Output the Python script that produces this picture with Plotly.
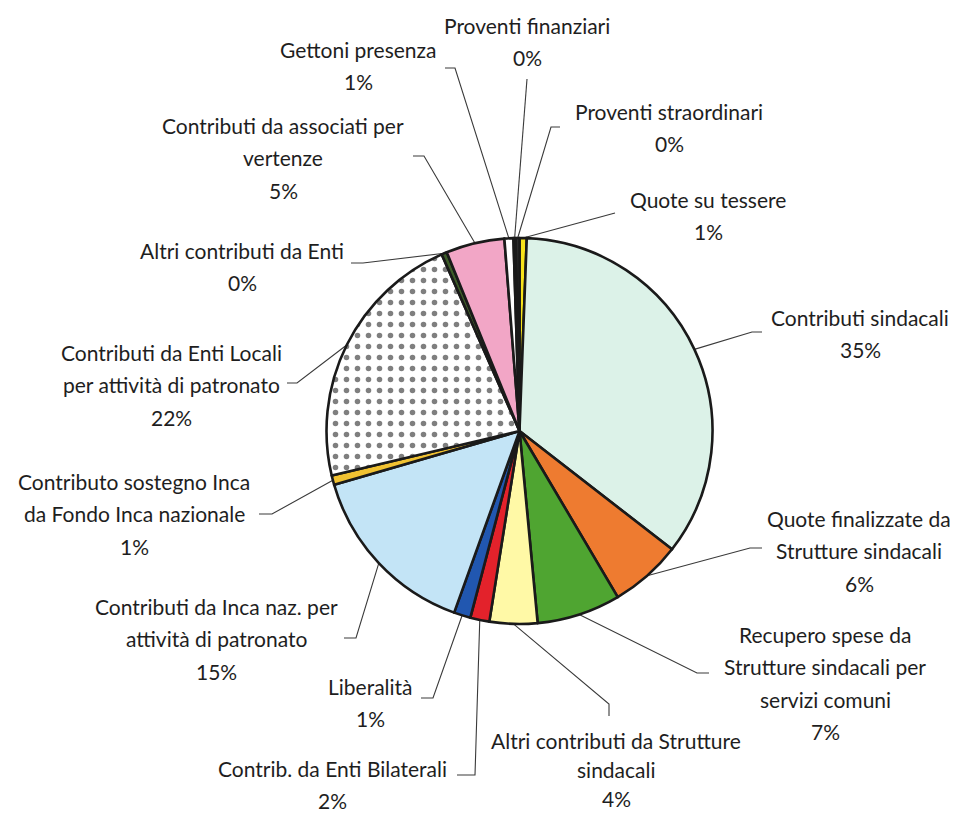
import math
import plotly.graph_objects as go

# ---------------- data ----------------
labels = [
    "Quote su tessere",
    "Contributi sindacali",
    "Quote finalizzate da Strutture sindacali",
    "Recupero spese da Strutture sindacali per servizi comuni",
    "Altri contributi da Strutture sindacali",
    "Contrib. da Enti Bilaterali",
    "Liberalità",
    "Contributi da Inca naz. per attività di patronato",
    "Contributo sostegno Inca da Fondo Inca nazionale",
    "Contributi da Enti Locali per attività di patronato",
    "Altri contributi da Enti",
    "Contributi da associati per vertenze",
    "Gettoni presenza",
    "Proventi finanziari",
    "Proventi straordinari",
]
values = [0.6, 34.9, 6.0, 7.0, 4.0, 1.6, 1.4, 15.0, 0.8, 22.1, 0.45, 4.9, 0.75, 0.2, 0.3]

# label text as displayed (line breaks as in the chart)
label_lines = [
    ["Quote su tessere"],
    ["Contributi sindacali"],
    ["Quote finalizzate da", "Strutture sindacali"],
    ["Recupero spese da", "Strutture sindacali per", "servizi comuni"],
    ["Altri contributi da Strutture", "sindacali"],
    ["Contrib. da Enti Bilaterali"],
    ["Liberalità"],
    ["Contributi da Inca naz. per", "attività di patronato"],
    ["Contributo sostegno Inca", "da Fondo Inca nazionale"],
    ["Contributi da Enti Locali", "per attività di patronato"],
    ["Altri contributi da Enti"],
    ["Contributi da associati per", "vertenze"],
    ["Gettoni presenza"],
    ["Proventi finanziari"],
    ["Proventi straordinari"],
]

# ---------------- styles ----------------
colors = [
    "#F7E21B", "#DCF2E8", "#EE7B30", "#4FA531", "#FFF9A6", "#E3222B", "#2157B0",
    "#C3E4F6", "#F1C232", "#FFFFFF", "#3E5E29", "#F2A6C6", "#FFFFFF", "#333333", "#333333",
]
patterns = ["", "", "", "", "", "", "", "", "", ".", "", "", "", "", ""]

# label layout: (center x px, first line center y px)
label_pos = [
    (708, 199), (860, 317), (859, 518), (825, 634), (616, 740), (332, 768),
    (370, 686), (216, 606), (134, 481), (171, 352), (242, 250), (283, 125),
    (358, 49), (527, 25), (669, 111),
]
line_gap = 32.5
gap_override = {4: 29.0}
# leader lines: text-side points (px), pie-side end computed from data
leader_text_pts = [
    [(615, 213)],
    [(762, 332), (752, 332)],
    [(762, 548), (750, 548)],
    [(709, 673), (697, 673)],
    [(609, 716), (609, 704)],
    [(457, 775), (475, 775)],
    [(421, 698), (433, 698)],
    [(344, 638), (356, 638)],
    [(259, 514), (272, 514)],
    [(287, 383), (297, 383)],
    [(351, 263), (363, 263)],
    [(413, 156), (424, 156)],
    [(445, 68), (455, 68)],
    [(527, 79)],
    [(560, 127), (551, 127)],
]

W, H = 960, 814
pie_dom_x = [0.3401, 0.7422]
pie_dom_y = [0.2334, 0.7076]
FONT = "Lato"
FS = 21
TXT = "#1e1e1e"

fig = go.Figure()

fig.add_trace(go.Pie(
    labels=labels,
    values=values,
    sort=False,
    direction="clockwise",
    rotation=0,
    textinfo="none",
    hoverinfo="skip",
    showlegend=False,
    domain=dict(x=pie_dom_x, y=pie_dom_y),
    marker=dict(
        colors=colors,
        line=dict(color="#1a1a1a", width=2.6),
        pattern=dict(shape=patterns, fgcolor="#000000", bgcolor="#FFFFFF",
                     size=11, solidity=0.2, fillmode="overlay"),
    ),
))

# geometry of pie in pixel coordinates
cx = (pie_dom_x[0] + pie_dom_x[1]) / 2 * W
cy = H * (1 - (pie_dom_y[0] + pie_dom_y[1]) / 2)
r = min((pie_dom_x[1] - pie_dom_x[0]) * W, (pie_dom_y[1] - pie_dom_y[0]) * H) / 2

total = sum(values)
cum = 0.0
for i, v in enumerate(values):
    mid = (cum + v / 2) / total * 2 * math.pi
    cum += v
    ex = cx + r * math.sin(mid)
    ey = cy - r * math.cos(mid)
    pts = leader_text_pts[i] + [(ex, ey)]
    fig.add_trace(go.Scatter(
        x=[p[0] for p in pts], y=[p[1] for p in pts],
        mode="lines", line=dict(color="#3a3a3a", width=1.1),
        hoverinfo="skip", showlegend=False, xaxis="x", yaxis="y",
    ))
    pct = f"{round(v / total * 100)}%"
    lx, ly = label_pos[i]
    g = gap_override.get(i, line_gap)
    for j, line in enumerate(label_lines[i] + [pct]):
        fig.add_annotation(
            x=lx, y=ly + j * g, xref="x", yref="y",
            text=line, showarrow=False, xanchor="center", yanchor="middle",
            font=dict(family=FONT, size=FS, color=TXT),
        )

fig.update_layout(
    width=W, height=H,
    margin=dict(l=0, r=0, t=0, b=0),
    paper_bgcolor="white", plot_bgcolor="rgba(0,0,0,0)",
    xaxis=dict(range=[0, W], visible=False, fixedrange=True, domain=[0, 1]),
    yaxis=dict(range=[H, 0], visible=False, fixedrange=True, domain=[0, 1]),
    showlegend=False,
)

fig.write_html(
    "out.html",
    config={"displayModeBar": False},
    post_script="document.body.style.margin='0px';document.body.style.overflow='hidden';",
)
